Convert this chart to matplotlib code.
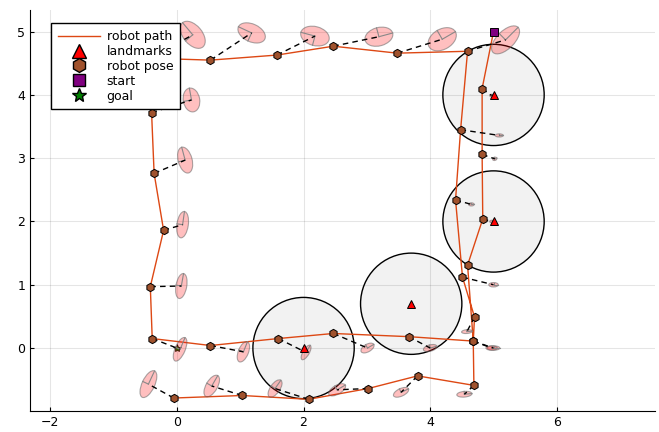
import numpy as np
import matplotlib.pyplot as plt
from matplotlib.patches import Ellipse, Circle
from matplotlib.lines import Line2D

# landmarks and their sensing range
landmark_x = [2.0, 3.7, 5.0, 5.0]
landmark_y = [0.0, 0.7, 2.0, 4.0]
sense_radius = 0.8

start_x, start_y = 5.0, 5.0
goal_x, goal_y = 0.0, 0.0

# true robot poses, in path order (first entry is the start)
pose_x = [5.00, 4.82, 4.82, 4.83, 4.59, 4.68, 3.66, 2.47, 1.60, 0.53, -0.39,
          -0.42, -0.21, -0.36, -0.40, -0.42, 0.53, 1.58, 2.47, 3.48, 4.59,
          4.48, 4.40, 4.51, 4.70, 4.68, 4.69, 3.80, 3.02, 2.08, 1.03, -0.05]
pose_y = [5.00, 4.10, 3.06, 2.04, 1.31, 0.11, 0.18, 0.23, 0.15, 0.04, 0.15,
          0.97, 1.86, 2.76, 3.72, 4.58, 4.55, 4.63, 4.77, 4.66, 4.69,
          3.45, 2.34, 1.12, 0.49, 0.11, -0.59, -0.44, -0.64, -0.81, -0.75, -0.79]

# estimated poses with covariance ellipses (full axis lengths, angle in deg)
est_x = [5.00, 4.97, 5.02, 4.97, 4.62, 5.00, 4.00, 3.01, 2.04, 1.05, 0.05,
         0.07, 0.09, 0.13, 0.23, 0.25, 1.18, 2.18, 3.19, 4.19, 5.19,
         5.09, 4.65, 5.00, 4.58, 4.97, 4.54, 3.54, 2.53, 1.55, 0.55, -0.45]
est_y = [5.00, 3.99, 2.99, 2.00, 1.27, 0.00, 0.00, 0.00, -0.07, -0.06, -0.02,
         0.98, 1.95, 2.97, 3.92, 4.95, 4.98, 4.93, 4.92, 4.88, 4.87,
         3.36, 2.27, 1.00, 0.26, 0.00, -0.73, -0.70, -0.66, -0.64, -0.60, -0.57]
ell_w = [0.02, 0.06, 0.07, 0.06, 0.05, 0.20, 0.22, 0.23, 0.26, 0.34, 0.40,
         0.40, 0.42, 0.42, 0.38, 0.50, 0.46, 0.46, 0.45, 0.48, 0.56,
         0.13, 0.09, 0.15, 0.17, 0.18, 0.24, 0.26, 0.30, 0.32, 0.38, 0.46]
ell_h = [0.02, 0.04, 0.05, 0.04, 0.03, 0.07, 0.10, 0.12, 0.10, 0.16, 0.16,
         0.17, 0.18, 0.22, 0.26, 0.30, 0.28, 0.30, 0.29, 0.32, 0.28,
         0.05, 0.05, 0.07, 0.06, 0.07, 0.09, 0.12, 0.14, 0.15, 0.18, 0.20]
ell_ang = [0, 0, 20, 0, 0, 0, 15, 30, 60, 68, 67,
           80, 82, 105, 100, 130, 155, 165, 15, 30, 45,
           0, 0, 0, 5, 0, 5, 25, 30, 55, 60, 65]

path_color = "#dd4814"


def main():
    fig = plt.figure(figsize=(6.59, 4.32), dpi=100)
    ax = fig.add_axes([30 / 659, 21 / 432, 625 / 659, 401.5 / 432])

    ax.set_xlim(-2.32, 7.55)
    ax.set_ylim(-0.995, 5.35)
    ax.set_xticks([-2, 0, 2, 4, 6])
    ax.set_yticks([0, 1, 2, 3, 4, 5])
    ax.grid(True, color="black", alpha=0.1, linewidth=0.8, zorder=0)
    ax.set_axisbelow(True)
    ax.spines["top"].set_visible(False)
    ax.spines["right"].set_visible(False)
    ax.tick_params(direction="in", length=3, width=0.8, labelsize=9)

    for lx, ly in zip(landmark_x, landmark_y):
        ax.add_patch(Circle((lx, ly), sense_radius, facecolor=(0, 0, 0, 0.05),
                            edgecolor="black", linewidth=1, zorder=1))

    ax.plot(pose_x, pose_y, color=path_color, linewidth=1, zorder=2)

    for i in range(1, len(pose_x)):
        ex, ey = est_x[i], est_y[i]
        ax.add_patch(Ellipse((ex, ey), ell_w[i], ell_h[i], angle=ell_ang[i],
                             facecolor=(1, 0, 0, 0.25), edgecolor=(0.4, 0.4, 0.4, 0.55),
                             linewidth=0.8, zorder=3))
        t = np.deg2rad(ell_ang[i])
        a, b = ell_w[i] / 2, ell_h[i] / 2
        ax.plot([ex, ex + a * np.cos(t)], [ey, ey + a * np.sin(t)],
                color="#888888", linewidth=0.8, zorder=3.5)
        ax.plot([ex, ex - b * np.sin(t)], [ey, ey + b * np.cos(t)],
                color="#888888", linewidth=0.8, zorder=3.5)
        ax.plot([pose_x[i], ex], [pose_y[i], ey], color="black", linewidth=1,
                dashes=(4, 3), zorder=4)

    ax.plot(pose_x[1:], pose_y[1:], "h", color="sienna", markeredgecolor="black",
            markeredgewidth=0.7, markersize=6, linestyle="none", zorder=5)
    ax.plot(landmark_x, landmark_y, "^", color="red", markeredgecolor="black",
            markeredgewidth=0.7, markersize=6, linestyle="none", zorder=6)
    ax.plot(start_x, start_y, "s", color="purple", markeredgecolor="black",
            markeredgewidth=0.7, markersize=6, zorder=6)
    ax.plot(goal_x, goal_y, "*", color="green", markeredgecolor="black",
            markeredgewidth=0.5, markersize=6, zorder=2.5)

    handles = [
        Line2D([], [], color=path_color, linewidth=1),
        Line2D([], [], marker="^", color="red", markeredgecolor="black",
               markersize=10, linestyle="none"),
        Line2D([], [], marker="h", color="sienna", markeredgecolor="black",
               markersize=10, linestyle="none"),
        Line2D([], [], marker="s", color="purple", markeredgecolor="black",
               markersize=9, linestyle="none"),
        Line2D([], [], marker="*", color="green", markeredgecolor="black",
               markersize=10, linestyle="none"),
    ]
    labels = ["robot path", "landmarks", "robot pose", "start", "goal"]
    leg = ax.legend(handles, labels, loc="upper left", bbox_to_anchor=(0.0336, 0.966),
                    borderaxespad=0, fontsize=9, labelspacing=0.15, handlelength=3.4,
                    handletextpad=0.5, borderpad=0.55, fancybox=False, framealpha=1,
                    edgecolor="black")
    leg.get_frame().set_linewidth(1)
    leg.set_zorder(10)

    fig.savefig("out.png", dpi=100)


if __name__ == "__main__":
    main()
